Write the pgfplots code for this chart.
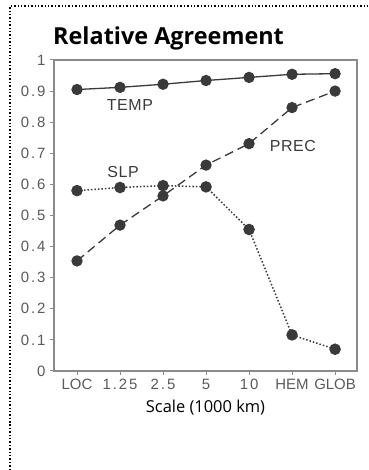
\documentclass[border=0pt]{standalone}
\usepackage{fontspec}
\setmainfont{Open Sans}
\newfontfamily\tickfont{Liberation Sans}
\newfontfamily\numfont[LetterSpace=13]{Liberation Sans}
\newfontfamily\lblfont[LetterSpace=4]{Liberation Sans}
\usepackage{pgfplots}
\pgfplotsset{compat=1.18}
\definecolor{tickgray}{HTML}{5A5A5A}
\definecolor{axgray}{HTML}{8A8A8A}
\definecolor{linegray}{HTML}{3A3A3A}
\begin{document}
\begin{tikzpicture}[x=1bp,y=1bp]
\path[use as bounding box] (0,0) rectangle (368,470);
\draw[dotted, line width=1.4bp] (10,0) -- (10,464) -- (368,464);
\begin{axis}[
  at={(54bp,99bp)}, anchor=south west,
  scale only axis, width=303bp, height=311bp,
  xmin=-0.535, xmax=6.51, ymin=0, ymax=1,
  xtick={0,1,2,3,4,5,6},
  xticklabels={LOC,{\numfont 1.25},{\numfont 2.5},{\numfont 5},{\numfont 10},HEM,GLOB},
  ytick={0,0.1,0.2,0.3,0.4,0.5,0.6,0.7,0.8,0.9,1},
  yticklabels={0,0.1,0.2,0.3,0.4,0.5,0.6,0.7,0.8,0.9,1},
  tick align=outside, major tick length=4bp,
  xtick pos=bottom, ytick pos=left,
  tick style={axgray, line width=1bp},
  axis line style={axgray, line width=1.3bp},
  ticklabel style={font=\tickfont\fontsize{15}{15}\selectfont, text=tickgray},
  xticklabel style={yshift=-1bp},
  yticklabel style={xshift=-1bp, font=\numfont\fontsize{15}{15}\selectfont},
  xlabel={Scale (1000 km)},
  xlabel style={font=\fontsize{16.5}{16.5}\selectfont, at={(axis description cs:0.5,0)}, anchor=base, yshift=-41.7bp},
  clip=false,
]
\addplot[linegray, line width=1.3bp, mark=*, mark size=5bp, mark options={solid, fill=linegray, draw=linegray}]
 coordinates {(0,0.905) (1,0.912) (2,0.922) (3,0.934) (4,0.944) (5,0.954) (6,0.956)};
\addplot[linegray, line width=1.3bp, dash pattern=on 9bp off 5bp, mark=*, mark size=5bp, mark options={solid, fill=linegray, draw=linegray}]
 coordinates {(0,0.354) (1,0.469) (2,0.563) (3,0.662) (4,0.731) (5,0.847) (6,0.900)};
\addplot[linegray, line width=1.5bp, dash pattern=on 1.5bp off 2bp, mark=*, mark size=5bp, mark options={solid, fill=linegray, draw=linegray}]
 coordinates {(0,0.580) (1,0.590) (2,0.596) (3,0.592) (4,0.455) (5,0.116) (6,0.070)};
\node[font=\lblfont\fontsize{16}{16}\selectfont, text=linegray] at (axis cs:1.23,0.854) {TEMP};
\node[font=\lblfont\fontsize{16}{16}\selectfont, text=linegray] at (axis cs:5.02,0.722) {PREC};
\node[font=\lblfont\fontsize{16}{16}\selectfont, text=linegray] at (axis cs:1.07,0.639) {SLP};
\end{axis}
\node[anchor=base west, font=\bfseries\fontsize{23.5}{23.5}\selectfont, inner sep=0pt] at (53,425) {Relative Agreement};
\end{tikzpicture}
\end{document}
